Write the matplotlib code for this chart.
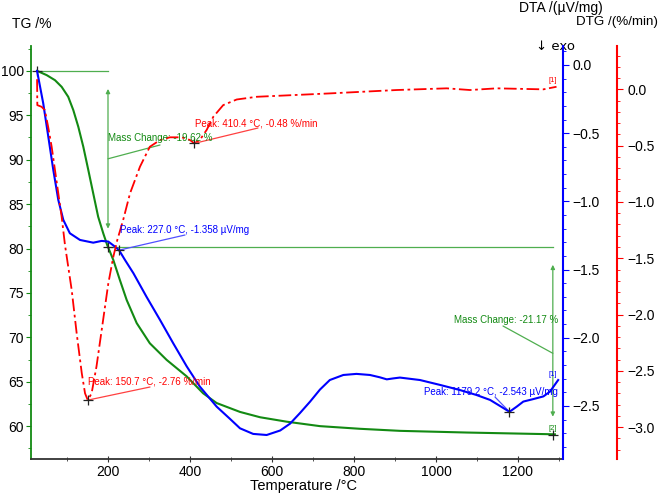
import matplotlib
matplotlib.use("Agg")
import matplotlib.pyplot as plt
from matplotlib.ticker import MultipleLocator

plt.rcParams['font.family'] = ['Liberation Sans', 'DejaVu Sans']

# ---------------- data ----------------
tg_T = [27, 50.5, 70.7, 87, 103, 115.4, 127.6, 139.8, 152, 164, 176, 188.5, 198, 213,
        229, 245.6, 270, 302, 343, 392, 432, 465, 522, 571, 636, 717, 815, 912, 1075,
        1290]
tg_v = [100, 99.52, 98.95, 98.2, 97.08, 95.58, 93.7, 91.45, 88.83, 86.2, 83.58, 81.7,
        80.4, 78.7, 76.45, 74.2, 71.6, 69.33, 67.46, 65.6, 63.7, 62.6, 61.6, 61.0, 60.5,
        60.0, 59.7, 59.47, 59.28, 59.08]

dta_T = [27, 42, 54.4, 66.6, 78.8, 91, 107, 131.7, 164, 184.6, 200.7, 217, 227, 241.5,
         262, 294, 327, 359, 392, 424, 465, 497.6, 522, 554, 587, 620, 644, 668, 693,
         717, 741, 774, 806, 839, 863, 880, 896, 912, 961, 1010, 1058, 1099, 1132, 1156,
         1179.2, 1197, 1213, 1237, 1262, 1278, 1298]
dta_v = [-0.044, -0.281, -0.526, -0.77, -0.99, -1.136, -1.234, -1.283, -1.303, -1.29,
         -1.295, -1.332, -1.358, -1.43, -1.527, -1.70, -1.87, -2.04, -2.21, -2.358,
         -2.505, -2.595, -2.664, -2.705, -2.713, -2.68, -2.63, -2.553, -2.468, -2.38,
         -2.31, -2.273, -2.265, -2.273, -2.29, -2.305, -2.298, -2.292, -2.31, -2.346,
         -2.383, -2.42, -2.456, -2.5, -2.543, -2.505, -2.468, -2.45, -2.43, -2.395,
         -2.31]

dtg_T = [27, 27.6, 38, 46, 54, 62.6, 70.7, 78.8, 87, 95, 111.5, 123.6, 136, 144, 150.7,
         160, 172, 184.6, 200.8, 213, 222.7, 237, 253.7, 278, 302, 327, 351, 380, 400,
         410.4, 424, 440.7, 457, 481, 514, 563, 741, 904, 1026, 1083, 1148, 1262, 1294]
dtg_v = [0.09, -0.14, -0.155, -0.185, -0.332, -0.51, -0.717, -0.924, -1.132, -1.38,
         -1.783, -2.167, -2.52, -2.70, -2.76, -2.70, -2.46, -2.138, -1.723, -1.487,
         -1.338, -1.16, -0.924, -0.687, -0.51, -0.45, -0.426, -0.426, -0.45, -0.48,
         -0.45, -0.36, -0.243, -0.14, -0.09, -0.066, -0.036, -0.006, 0.009, -0.006,
         0.009, 0.0, 0.023]

dtg_peaks = [(150.7, -2.76), (410.4, -0.48)]
dta_peaks = [(227.0, -1.358), (1179.2, -2.543)]
step_T = [27, 200, 1285]
step_TG = [100.0, 80.2, 59.03]
mass_changes = [-19.62, -21.17]

x_ticks = [200, 400, 600, 800, 1000, 1200]
tg_ticks = [60, 65, 70, 75, 80, 85, 90, 95, 100]
dta_ticks = [0.0, -0.5, -1.0, -1.5, -2.0, -2.5]
dtg_ticks = [0.0, -0.5, -1.0, -1.5, -2.0, -2.5, -3.0]

GREEN = '#138a13'
LGREEN = '#4fae4f'
BLUE = '#0000ff'
RED = '#ff0000'
LRED = '#ff4040'

W, H = 660, 495
fig = plt.figure(figsize=(6.6, 4.95), dpi=100)
L, R, B, T = 31, 563, 459, 46
ax = fig.add_axes([L / W, 1 - B / H, (R - L) / W, (B - T) / H])
ax2 = ax.twinx()
ax3 = ax.twinx()

ax.set_xlim(12.2, 1309.8)
ax.set_ylim(56.3, 102.8)
ax2.set_ylim(-2.889, 0.139)
ax3.set_ylim(-3.283, 0.385)

# spines
for a in (ax, ax2, ax3):
    a.spines['top'].set_visible(False)
    a.patch.set_visible(False)
ax.spines['right'].set_visible(False)
ax.spines['left'].set_color(GREEN)
ax.spines['left'].set_linewidth(1.3)
ax.spines['bottom'].set_color('#333333')
ax.spines['bottom'].set_linewidth(1.3)
for a in (ax2, ax3):
    a.spines['left'].set_visible(False)
    a.spines['bottom'].set_visible(False)
ax2.spines['right'].set_color(BLUE)
ax2.spines['right'].set_linewidth(1.5)
ax3.spines['right'].set_color(RED)
ax3.spines['right'].set_linewidth(1.5)
ax3.spines['right'].set_position(('axes', (617.3 - L) / (R - L)))

fs = 10
ax.set_xticks(x_ticks)
ax.xaxis.set_minor_locator(MultipleLocator(100))
ax.tick_params(axis='x', which='both', direction='inout', color='#333333', labelsize=fs,
               length=4, pad=2)
ax.tick_params(axis='x', which='minor', length=3)
ax.set_yticks(tg_ticks)
ax.yaxis.set_minor_locator(MultipleLocator(2.5))
ax.tick_params(axis='y', which='both', direction='out', color=GREEN, labelsize=fs,
               length=3.5, pad=1.5)
ax.tick_params(axis='y', which='minor', length=2.5)

ax2.set_yticks(dta_ticks)
ax2.yaxis.set_minor_locator(MultipleLocator(0.1))
ax2.tick_params(axis='y', which='both', direction='out', color=BLUE, labelsize=fs,
                length=4, pad=3)
ax2.tick_params(axis='y', which='minor', length=2.5)
ax3.set_yticks(dtg_ticks)
ax3.yaxis.set_minor_locator(MultipleLocator(0.1))
ax3.tick_params(axis='y', which='both', direction='out', color=RED, labelsize=fs,
                length=4, pad=3)
ax3.tick_params(axis='y', which='minor', length=2.5)

# curves
ax3.plot(dtg_T, dtg_v, color=RED, lw=1.3, linestyle=(0, (7, 2, 1.5, 2)), zorder=2)
ax.plot(tg_T, tg_v, color=GREEN, lw=1.5, zorder=3)
ax2.plot(dta_T, dta_v, color=BLUE, lw=1.5, zorder=4)

mk = dict(marker='+', color='#222222', ms=7, mew=0.9, linestyle='none', zorder=6)

# mass change steps
ax.plot([step_T[0], step_T[1]], [step_TG[0], step_TG[0]], color=LGREEN, lw=0.9)
ax.plot([step_T[1], step_T[2]], [step_TG[1], step_TG[1]], color=LGREEN, lw=0.9)
arr = dict(arrowstyle='<|-|>', color=LGREEN, lw=0.9, mutation_scale=6,
           shrinkA=13, shrinkB=13)
ax.annotate('', xy=(step_T[1], step_TG[1]), xytext=(step_T[1], step_TG[0]),
            arrowprops=arr)
ax.annotate('', xy=(step_T[2], step_TG[2]), xytext=(step_T[2], step_TG[1]),
            arrowprops=arr)
ax.plot(step_T, step_TG, **mk)

def fpix(x, y):
    return (x, H - y)

line = dict(arrowstyle='-', color=LGREEN, lw=0.9, shrinkA=0, shrinkB=0)
ax.annotate('', xy=(step_T[1], (step_TG[0] + step_TG[1]) / 2), xycoords='data',
            xytext=fpix(160, 145), textcoords='figure pixels', arrowprops=line)
fig.text(108 / W, 1 - 138 / H, f'Mass Change: {mass_changes[0]:.2f} %', color=GREEN,
         fontsize=7, va='center', ha='left', zorder=7)
ax.annotate('', xy=(step_T[2], 68.2), xycoords='data',
            xytext=fpix(503, 326), textcoords='figure pixels', arrowprops=line)
fig.text(558 / W, 1 - 320 / H, f'Mass Change: {mass_changes[1]:.2f} %', color=GREEN,
         fontsize=7, va='center', ha='right', zorder=7)
fig.text(553 / W, 1 - 429 / H, '[2]', color=GREEN, fontsize=5.5, ha='center', va='center')

# DTG peaks
pts_T = [p[0] for p in dtg_peaks]
pts_v = [p[1] for p in dtg_peaks]
ax3.plot(pts_T, pts_v, **mk)
rline = dict(arrowstyle='-', color=LRED, lw=0.9, shrinkA=0, shrinkB=0)
ax3.annotate('', xy=dtg_peaks[0], xytext=fpix(150, 387), textcoords='figure pixels',
             arrowprops=rline)
fig.text(88 / W, 1 - 381.5 / H,
         f'Peak: {dtg_peaks[0][0]:.1f} °C, {dtg_peaks[0][1]:.2f} %/min',
         color=RED, fontsize=7, va='center', ha='left')
ax3.annotate('', xy=dtg_peaks[1], xytext=fpix(258, 128), textcoords='figure pixels',
             arrowprops=rline)
fig.text(195 / W, 1 - 123 / H,
         f'Peak: {dtg_peaks[1][0]:.1f} °C, {dtg_peaks[1][1]:.2f} %/min',
         color=RED, fontsize=7, va='center', ha='left')
fig.text(553 / W, 1 - 81 / H, '[1]', color=RED, fontsize=5.5, ha='center', va='center')

# DTA peaks
pts_T = [p[0] for p in dta_peaks]
pts_v = [p[1] for p in dta_peaks]
ax2.plot(pts_T, pts_v, **mk)
bline = dict(arrowstyle='-', color='#5050ff', lw=0.9, shrinkA=0, shrinkB=0)
ax2.annotate('', xy=dta_peaks[0], xytext=fpix(185, 235), textcoords='figure pixels',
             arrowprops=bline)
fig.text(120 / W, 1 - 230 / H,
         f'Peak: {dta_peaks[0][0]:.1f} °C, {dta_peaks[0][1]:.3f} µV/mg',
         color=BLUE, fontsize=7, va='center', ha='left')
ax2.annotate('', xy=dta_peaks[1], xytext=fpix(495, 397), textcoords='figure pixels',
             arrowprops=bline)
fig.text(558 / W, 1 - 392 / H,
         f'Peak: {dta_peaks[1][0]:.1f} °C, {dta_peaks[1][1]:.3f} µV/mg',
         color=BLUE, fontsize=7, va='center', ha='right')
fig.text(553 / W, 1 - 375 / H, '[1]', color=BLUE, fontsize=5.5, ha='center', va='center')

# axis titles
fig.text(12 / W, 1 - 24 / H, 'TG /%', fontsize=10, va='center', ha='left')
fig.text(519 / W, 1 - 8 / H, 'DTA /(µV/mg)', fontsize=10, va='center', ha='left')
fig.text(576 / W, 1 - 22.5 / H, 'DTG /(%/min)', fontsize=9.6, va='center', ha='left')
ax2.text(536 / W, 1 - 46 / H, '↓ exo', fontsize=9.5, va='center', ha='left',
         family=['DejaVu Sans'], transform=fig.transFigure, zorder=1)
fig.text(303 / W, 1 - 486 / H, 'Temperature /°C', fontsize=10.5, va='center', ha='center')

fig.savefig('out.png', dpi=100)
